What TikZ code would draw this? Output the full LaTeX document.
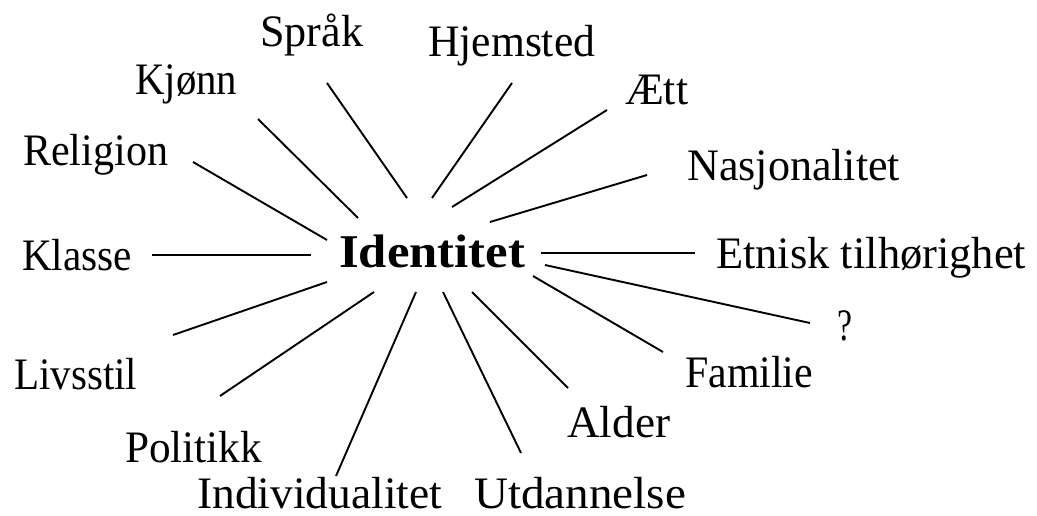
\documentclass[tikz,border=0pt]{standalone}
\usepackage{fontspec}
\setmainfont{Liberation Serif}
\usepackage{graphicx}
\newlength\lblw
\newcommand\fitw[2]{\settowidth\lblw{#2}\pgfmathsetmacro\lblfac{#1/\lblw}\scalebox{\lblfac}[1]{#2}}
\tikzset{
  lbl/.style={inner sep=0pt, anchor=base west, font=\fontsize{45}{52}\selectfont},
  hub/.style={inner sep=0pt, anchor=base west, font=\fontsize{47}{54}\selectfont\bfseries},
  ray/.style={line width=1.9pt, black}
}
\begin{document}
\begin{tikzpicture}[x=1pt,y=-1pt]
\useasboundingbox (0,0) rectangle (1037,516);
\fill[white] (0,0) rectangle (1037,516);
% labels
\node[hub] (id) at (339,267) {\fitw{186}{Identitet}};
\node[lbl] (sprak) at (260,47) {\fitw{103}{Språk}};
\node[lbl] (hjem) at (428,57) {\fitw{167}{Hjemsted}};
\node[lbl] (kjonn) at (135,95) {\fitw{102}{Kjønn}};
\node[lbl] (aett) at (625,105) {\fitw{63}{Ætt}};
\node[lbl] (rel) at (23,166) {\fitw{145}{Religion}};
\node[lbl] (nas) at (687,181) {\fitw{213}{Nasjonalitet}};
\node[lbl] (klasse) at (22,270) {\fitw{110}{Klasse}};
\node[lbl] (etn) at (716,268) {\fitw{310}{Etnisk tilhørighet}};
\node[lbl] (q) at (837,340) {\fitw{15}{?}};
\node[lbl] (livs) at (14,389) {\fitw{123}{Livsstil}};
\node[lbl] (fam) at (685,387) {\fitw{128}{Familie}};
\node[lbl] (pol) at (125,462) {\fitw{137}{Politikk}};
\node[lbl] (alder) at (567,437) {\fitw{103}{Alder}};
\node[lbl] (ind) at (197,508) {\fitw{245}{Individualitet}};
\node[lbl] (utd) at (474,508) {\fitw{212}{Utdannelse}};
% ray end points
\coordinate (sprakA) at (327,83);  \coordinate (sprakB) at (407,198);
\coordinate (hjemA) at (512,83);   \coordinate (hjemB) at (432,198);
\coordinate (kjonnA) at (258,119); \coordinate (kjonnB) at (358,218);
\coordinate (relA) at (193,162);   \coordinate (relB) at (327,240);
\coordinate (aettA) at (607,110);  \coordinate (aettB) at (452,207);
\coordinate (nasA) at (647,175);   \coordinate (nasB) at (490,222);
\coordinate (etnA) at (695,253);   \coordinate (etnB) at (541,253);
\coordinate (klA) at (152,255);    \coordinate (klB) at (311,255);
\coordinate (qA) at (810,323);     \coordinate (qB) at (545,265);
\coordinate (famA) at (663,352);   \coordinate (famB) at (533,276);
\coordinate (alA) at (568,388);    \coordinate (alB) at (472,292);
\coordinate (utA) at (521,453);    \coordinate (utB) at (443,292);
\coordinate (indA) at (336,476);   \coordinate (indB) at (416,292);
\coordinate (polA) at (220,396);   \coordinate (polB) at (374,292);
\coordinate (livA) at (173,335);   \coordinate (livB) at (327,282);
% rays
\draw[ray] (sprakA) -- (sprakB);
\draw[ray] (hjemA) -- (hjemB);
\draw[ray] (kjonnA) -- (kjonnB);
\draw[ray] (relA) -- (relB);
\draw[ray] (aettA) -- (aettB);
\draw[ray] (nasA) -- (nasB);
\draw[ray] (etnA) -- (etnB);
\draw[ray] (klA) -- (klB);
\draw[ray] (qA) -- (qB);
\draw[ray] (famA) -- (famB);
\draw[ray] (alA) -- (alB);
\draw[ray] (utA) -- (utB);
\draw[ray] (indA) -- (indB);
\draw[ray] (polA) -- (polB);
\draw[ray] (livA) -- (livB);
\end{tikzpicture}
\end{document}
